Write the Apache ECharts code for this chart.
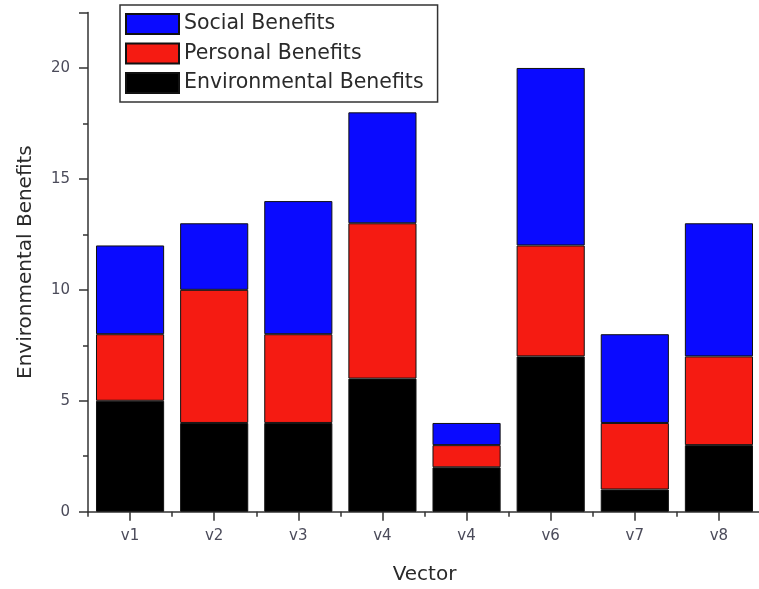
<!DOCTYPE html>
<html>
<head>
<meta charset="utf-8">
<script src="https://cdn.jsdelivr.net/npm/echarts@6/dist/echarts.min.js"></script>
<style>
html,body{margin:0;padding:0;background:#fff;}
#chart{width:759px;height:589px;}
</style>
</head>
<body>
<div id="chart"></div>
<script>
var categories = ['v1','v2','v3','v4','v4','v6','v7','v8'];
var environmental = [5, 4, 4, 6, 2, 7, 1, 3];
var personal = [3, 6, 4, 7, 1, 5, 3, 4];
var social = [4, 3, 6, 5, 1, 8, 4, 6];
var yTicks = [0, 5, 10, 15, 20];

var FONT = 'DejaVu Sans';
var chart = echarts.init(document.getElementById('chart'), null, {renderer:'canvas'});
var border = {borderColor:'#111', borderWidth:1};
function ser(name, data, color){
  return {
    name:name, type:'bar', stack:'total', data:data,
    barCategoryGap:'19%',
    itemStyle:Object.assign({color:color}, border),
    emphasis:{disabled:true}
  };
}
chart.setOption({
  animation:false,
  backgroundColor:'#ffffff',
  grid:{left:88, right:-2, top:12.5, bottom:77.3, containLabel:false, outerBoundsMode:'none'},
  legend:{
    orient:'vertical', left:120, top:5,
    data:['Social Benefits','Personal Benefits','Environmental Benefits'],
    itemWidth:53, itemHeight:20, itemGap:7.5,
    padding:[8,14,8,5],
    borderColor:'#333', borderWidth:1.5, borderRadius:0,
    icon:'rect',
    textStyle:{fontFamily:FONT, fontSize:20.5, color:'#2a2a2a'},
    selectedMode:false
  },
  xAxis:[{
    type:'category', data:categories, boundaryGap:true,
    name:'Vector', nameLocation:'middle', nameGap:53,
    nameTextStyle:{fontFamily:FONT, fontSize:20, color:'#2a2a2a'},
    axisLine:{show:true, lineStyle:{color:'#333', width:1.5}},
    axisTick:{show:true, alignWithLabel:true, length:9, lineStyle:{color:'#333', width:1.5}},
    axisLabel:{fontFamily:FONT, fontSize:15, color:'#4b4b5a', margin:17},
    splitLine:{show:false}
  },{
    type:'category', data:categories, boundaryGap:true, position:'bottom',
    axisLine:{show:false},
    axisTick:{show:true, alignWithLabel:false, length:5, lineStyle:{color:'#333', width:1.5}},
    axisLabel:{show:false},
    splitLine:{show:false}
  }],
  yAxis:{
    type:'value', min:0, max:22.5, interval:5,
    name:'Environmental Benefits', nameLocation:'middle', nameGap:52,
    nameTextStyle:{fontFamily:FONT, fontSize:20, color:'#2a2a2a'},
    axisLine:{show:true, lineStyle:{color:'#333', width:1.5}},
    axisTick:{show:true, length:9, lineStyle:{color:'#333', width:1.5}},
    minorTick:{show:true, splitNumber:2, length:5, lineStyle:{color:'#333', width:1.5}},
    axisLabel:{fontFamily:FONT, fontSize:15, color:'#4b4b5a', margin:18,
      formatter:function(v){ return yTicks.indexOf(v) >= 0 ? String(v) : ''; }},
    splitLine:{show:false}
  },
  series:[
    ser('Environmental Benefits', environmental, '#000000'),
    ser('Personal Benefits', personal, '#f51b12'),
    ser('Social Benefits', social, '#0a0aff')
  ]
});
</script>
</body>
</html>
